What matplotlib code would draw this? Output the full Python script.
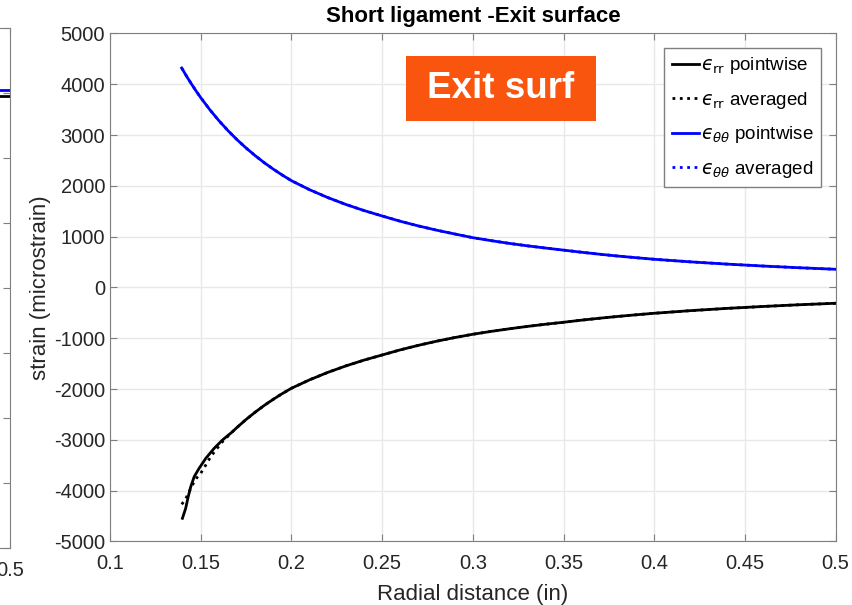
import matplotlib
matplotlib.use("Agg")
import matplotlib.pyplot as plt
from matplotlib.patches import Rectangle

plt.rcParams['font.family'] = ['Liberation Sans', 'DejaVu Sans']
plt.rcParams['mathtext.fontset'] = 'dejavusans'
plt.rcParams['axes.unicode_minus'] = False

# radial distance (in) and strain (microstrain)
r_tt = [0.1395, 0.1425, 0.145, 0.1475, 0.15, 0.155, 0.16, 0.165, 0.17, 0.175,
        0.18, 0.185, 0.19, 0.195, 0.2, 0.21, 0.22, 0.23, 0.24, 0.25,
        0.26, 0.27, 0.28, 0.29, 0.3, 0.31, 0.32, 0.33, 0.34, 0.35,
        0.36, 0.37, 0.38, 0.39, 0.4, 0.42, 0.44, 0.46, 0.48, 0.5]
e_tt = [4320, 4140, 3999, 3864, 3736, 3499, 3284, 3088, 2909, 2745,
        2595, 2456, 2329, 2211, 2102, 1924, 1770, 1634, 1514, 1407,
        1303, 1211, 1128, 1053, 980, 922, 868, 820, 776, 735,
        693, 654, 618, 586, 555, 504, 460, 422, 388, 358]

r_rr = [0.1399, 0.1417, 0.1431, 0.1445, 0.1464, 0.1491, 0.1528, 0.1574, 0.162, 0.1675,
        0.17, 0.175, 0.18, 0.185, 0.19, 0.195, 0.2, 0.21, 0.22, 0.23,
        0.24, 0.25, 0.26, 0.27, 0.28, 0.29, 0.3, 0.31, 0.32, 0.33,
        0.34, 0.35, 0.36, 0.37, 0.38, 0.39, 0.4, 0.42, 0.44, 0.46,
        0.48, 0.5]
e_rr = [-4544, -4347, -4118, -3921, -3724, -3560, -3363, -3166, -3002, -2839,
        -2755, -2598, -2455, -2322, -2201, -2088, -1984, -1818, -1672, -1544,
        -1430, -1329, -1228, -1139, -1058, -986, -921, -865, -814, -767,
        -724, -685, -643, -605, -570, -538, -508, -456, -412, -374,
        -340, -311]

# averaged values: differ from pointwise only near the hole edge
r_rr_avg = [0.1395, 0.1414, 0.1436, 0.1454, 0.1476, 0.15, 0.1528, 0.1555, 0.1583, 0.162,
            0.1675, 0.17, 0.175, 0.18, 0.185, 0.19, 0.195, 0.2, 0.21, 0.22,
            0.23, 0.24, 0.25, 0.26, 0.27, 0.28, 0.29, 0.3, 0.31, 0.32,
            0.33, 0.34, 0.35, 0.36, 0.37, 0.38, 0.39, 0.4, 0.42, 0.44,
            0.46, 0.48, 0.5]
e_rr_avg = [-4268, -4183, -4020, -3888, -3756, -3658, -3494, -3331, -3199, -3035,
            -2839, -2755, -2598, -2455, -2322, -2201, -2088, -1984, -1818, -1672,
            -1544, -1430, -1329, -1228, -1139, -1058, -986, -921, -865, -814,
            -767, -724, -685, -643, -605, -570, -538, -508, -456, -412,
            -374, -340, -311]

# neighbouring panel, only its right edge is visible
left_r = [0.1, 0.5]
left_tt = [7040, 7040]
left_rr = [6960, 6960]

axis_grey = '#7f7f7f'

fig = plt.figure(figsize=(8.53, 6.05), dpi=100)

# cut-off panel on the left
axl = fig.add_axes([0.0117 - 0.8, 0.0942, 0.8, 0.8595])
axl.plot(left_r, left_rr, color='black', lw=2)
axl.plot(left_r, left_tt, color='blue', lw=2)
axl.set_xlim(0.1, 0.5)
axl.set_ylim(0, 8000)
axl.set_xticks([0.5])
axl.set_xticklabels(['0.5'])
axl.set_yticks(range(0, 8001, 1000))
axl.set_yticklabels([])
axl.tick_params(direction='in', labelsize=14.5, colors=axis_grey, labelcolor='#262626',
                top=True, right=True, length=5)
axl.tick_params(axis='x', pad=9)
for s in axl.spines.values():
    s.set_color(axis_grey)

# main panel
ax = fig.add_axes([0.1290, 0.1050, 0.8507, 0.8397])
ax.plot(r_rr, e_rr, color='black', lw=2, label='$ϵ_{\\rm rr}$ pointwise')
ax.plot(r_rr_avg, e_rr_avg, color='black', lw=2, ls=':', label='$ϵ_{\\rm rr}$ averaged')
ax.plot(r_tt, e_tt, color='blue', lw=2, label='$ϵ_{\\theta\\theta}$ pointwise')
ax.plot(r_tt, e_tt, color='blue', lw=2, ls=':', label='$ϵ_{\\theta\\theta}$ averaged')

ax.set_xlim(0.1, 0.5)
ax.set_ylim(-5000, 5000)
ax.set_xticks([0.1, 0.15, 0.2, 0.25, 0.3, 0.35, 0.4, 0.45, 0.5])
ax.set_xticklabels(['0.1', '0.15', '0.2', '0.25', '0.3', '0.35', '0.4', '0.45', '0.5'])
ax.set_yticks(range(-5000, 5001, 1000))
ax.grid(True, color='#e8e8e8', lw=1)
ax.set_axisbelow(True)
ax.tick_params(direction='in', labelsize=14.5, colors=axis_grey, labelcolor='#262626',
               top=True, right=True, length=5)
ax.tick_params(axis='x', pad=9)
for s in ax.spines.values():
    s.set_color(axis_grey)

ax.set_xlabel('Radial distance (in)', fontsize=16, color='#262626', labelpad=8)
ax.set_ylabel('strain (microstrain)', fontsize=16, color='#262626', labelpad=2)
ax.set_title('Short ligament -Exit surface', fontsize=16, fontweight='bold', pad=8)

leg = ax.legend(loc='upper right', bbox_to_anchor=(0.98, 0.972), borderaxespad=0,
                fontsize=13.5, handlelength=1.45, handletextpad=0.1, labelspacing=0.72,
                borderpad=0.4, fancybox=False, framealpha=1)
leg.get_frame().set_edgecolor(axis_grey)
leg.get_frame().set_linewidth(1)

# orange label box
ax.add_patch(Rectangle((0.4079, 0.8278), 0.2618, 0.128, transform=ax.transAxes,
                       facecolor='#f9550f', edgecolor='none', zorder=4))
ax.text(0.4079 + 0.1309, 0.8278 + 0.064, 'Exit surf', transform=ax.transAxes,
        ha='center', va='center', color='white', fontsize=26.5, fontweight='bold', zorder=5)

fig.savefig('out.png', dpi=100)
